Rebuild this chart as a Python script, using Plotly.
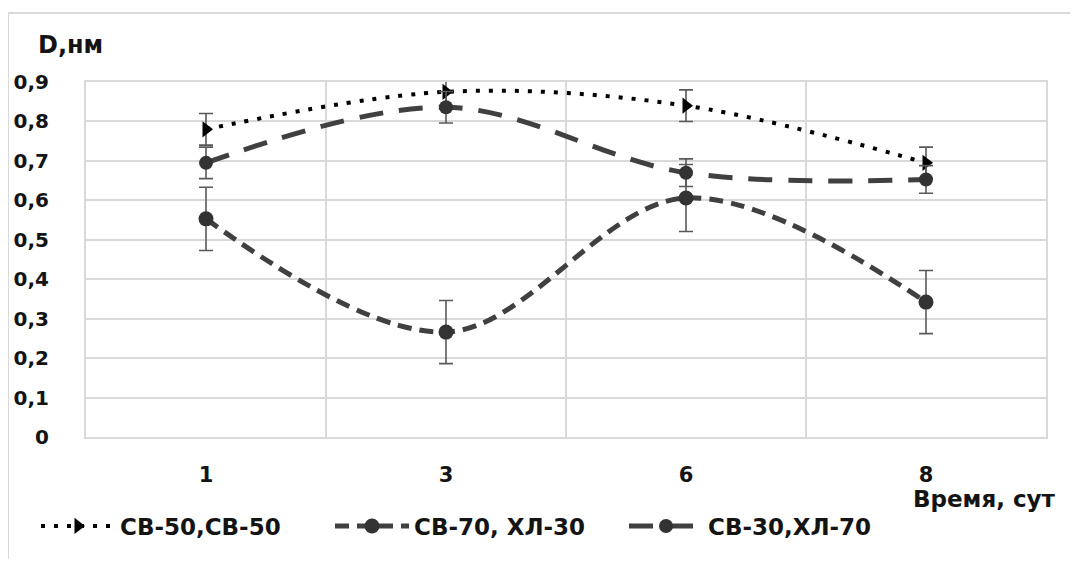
import plotly.graph_objects as go

# ---- data ----
days = ["1", "3", "6", "8"]
names = ["СВ-50,СВ-50", "СВ-70, ХЛ-30", "СВ-30,ХЛ-70"]
s_cb50 = [0.78, 0.875, 0.84, 0.695]
e_cb50 = [0.04, 0.04, 0.04, 0.04]
s_cb70 = [0.553, 0.266, 0.606, 0.342]
e_cb70 = [0.08, 0.08, 0.085, 0.08]
s_cb30 = [0.695, 0.836, 0.670, 0.653]
e_cb30 = [0.04, 0.04, 0.035, 0.035]
y_ticks = [0, 0.1, 0.2, 0.3, 0.4, 0.5, 0.6, 0.7, 0.8, 0.9]
y_ticktext = ["0", "0,1", "0,2", "0,3", "0,4", "0,5", "0,6", "0,7", "0,8", "0,9"]

FONT = "DejaVu Sans"
TXT = "#141414"
FS = 23
ERR = dict(type="data", visible=True, color="#595959", thickness=1.6, width=7)

fig = go.Figure()
fig.add_trace(go.Scatter(
    x=days, y=s_cb50, name=names[0], mode="lines+markers",
    line=dict(color="#000000", width=4, dash="4px,9px", shape="spline", smoothing=1),
    marker=dict(symbol="triangle-right", size=14, color="#000000"),
    error_y=dict(array=e_cb50, **ERR)))
fig.add_trace(go.Scatter(
    x=days, y=s_cb70, name=names[1], mode="lines+markers",
    line=dict(color="#404040", width=5, dash="14px,8px", shape="spline", smoothing=1),
    marker=dict(symbol="circle", size=15, color="#333333"),
    error_y=dict(array=e_cb70, **ERR)))
fig.add_trace(go.Scatter(
    x=days, y=s_cb30, name=names[2], mode="lines+markers",
    line=dict(color="#404040", width=5, dash="24px,16px", shape="spline", smoothing=1),
    marker=dict(symbol="circle", size=14, color="#333333"),
    error_y=dict(array=e_cb30, **ERR)))

# page body has an 8px margin: window pixel = figure pixel + OFF
OFF = 8
W, H = 1078 - 2 * OFF, 567 - 2 * OFF
L, R, T, B = 86 - OFF, 1046 - OFF, 82 - OFF, 437 - OFF
pw, ph = R - L, B - T

def px(x):
    return (x - OFF - L) / pw

def py(y):
    return (B - (y - OFF)) / ph

fig.update_layout(
    width=W, height=H,
    margin=dict(l=L, r=W - R, t=T, b=H - B, autoexpand=False),
    paper_bgcolor="white", plot_bgcolor="white",
    font=dict(family=FONT, size=FS, color=TXT),
    showlegend=True,
    legend=dict(orientation="h", x=px(36), y=py(526), xanchor="left", yanchor="middle",
                font=dict(family=FONT, size=FS, color=TXT, weight="bold"),
                itemwidth=74, entrywidth=205, entrywidthmode="pixels",
                bgcolor="rgba(0,0,0,0)", tracegroupgap=0),
    xaxis=dict(type="category", categoryorder="array", categoryarray=days,
               range=[-0.5, 3.5], autorange=False,
               tickson="boundaries", showgrid=True, gridcolor="#d9d9d9", gridwidth=1.5,
               showline=True, linecolor="#d9d9d9", linewidth=2, mirror=True,
               ticks="", ticklabelstandoff=18,
               tickfont=dict(family=FONT, size=21, color=TXT, weight="bold"),
               zeroline=False),
    yaxis=dict(range=[0, 0.9], tickvals=y_ticks, ticktext=y_ticktext,
               showgrid=True, gridcolor="#d9d9d9", gridwidth=1.5,
               showline=True, linecolor="#d9d9d9", linewidth=2, mirror=True,
               ticks="", ticklabelstandoff=31, zeroline=False,
               tickfont=dict(family=FONT, size=20, color=TXT, weight="bold")),
    annotations=[
        dict(text="<b>D,нм</b>", xref="paper", yref="paper", x=px(36), y=py(45),
             xanchor="left", yanchor="middle", showarrow=False,
             font=dict(family=FONT, size=FS + 1, color=TXT)),
        dict(text="<b>Время, сут</b>", xref="paper", yref="paper", x=px(1058), y=py(499),
             xanchor="right", yanchor="middle", showarrow=False,
             font=dict(family=FONT, size=FS, color=TXT)),
    ],
    shapes=[
        dict(type="line", xref="paper", yref="paper", x0=px(8), x1=px(8), y0=py(13), y1=py(600),
             line=dict(color="#d9d9d9", width=2)),
        dict(type="line", xref="paper", yref="paper", x0=px(8), x1=px(1100), y0=py(13), y1=py(13),
             line=dict(color="#d9d9d9", width=2)),
    ],
)

fig.write_html("out.html")
